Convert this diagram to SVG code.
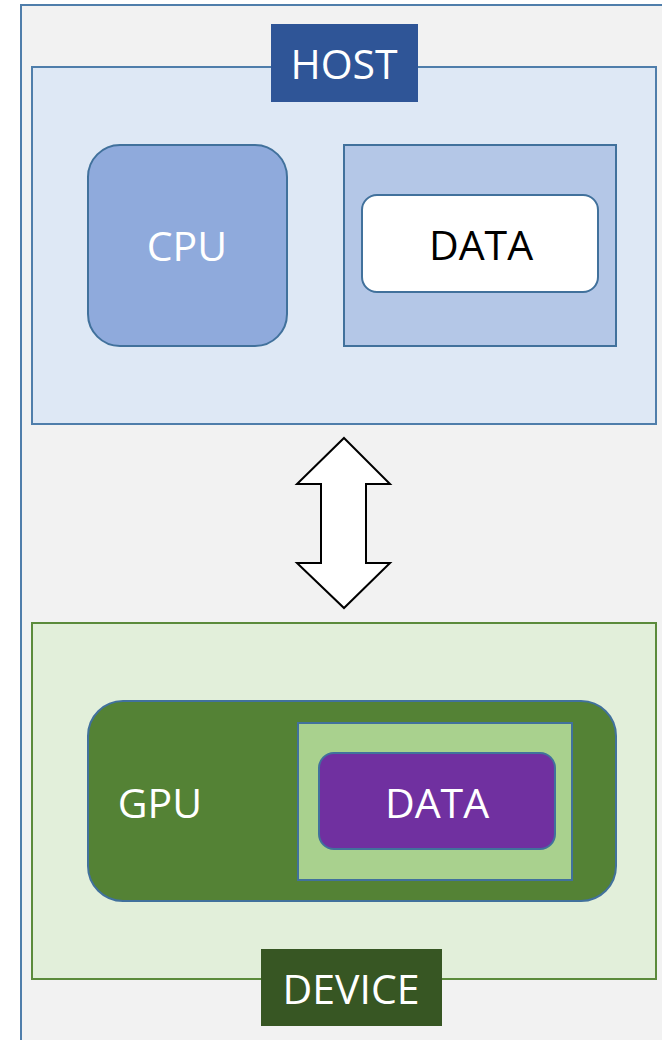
<svg xmlns="http://www.w3.org/2000/svg" width="662" height="1040" viewBox="0 0 662 1040">
<style>
.t{font-family:"Open Sans","Liberation Sans",sans-serif;font-size:41px;text-anchor:middle}
.w{fill:#ffffff}
.b{fill:#000000}
</style>
<rect x="0" y="0" width="662" height="1040" fill="#ffffff"/>
<g id="frame"><rect x="21" y="5" width="700" height="1100" fill="#f2f2f2" stroke="#4f7eab" stroke-width="2"/></g>
<g id="host">
<rect x="32" y="67" width="624" height="357" fill="#dee8f5" stroke="#4f7eab" stroke-width="2"/>
</g>
<g id="host-label">
<rect x="271" y="24" width="147" height="78" fill="#2f5597"/>
<text class="t w" x="344" y="79">HOST</text>
</g>
<g id="cpu">
<rect x="88" y="145" width="199" height="201" rx="32" fill="#8faadc" stroke="#41719c" stroke-width="2"/>
<text class="t w" x="187" y="261">CPU</text>
</g>
<g id="host-mem">
<rect x="344" y="145" width="272" height="201" fill="#b4c7e7" stroke="#41719c" stroke-width="2"/>
</g>
<g id="host-data">
<rect x="362" y="195" width="236" height="97" rx="15" fill="#ffffff" stroke="#41719c" stroke-width="2"/>
<text class="t b" x="481" y="260">DATA</text>
</g>
<g id="connectors">
<polygon points="344,438 390,484 366,484 366,563 390,563 344,608 297,563 321,563 321,484 297,484" fill="#ffffff" stroke="#000000" stroke-width="2" stroke-linejoin="miter"/>
</g>
<g id="device">
<rect x="32" y="623" width="624" height="356" fill="#e2efda" stroke="#5b8b3b" stroke-width="2"/>
</g>
<g id="gpu">
<rect x="88" y="701" width="528" height="200" rx="35" fill="#548235" stroke="#41719c" stroke-width="2"/>
<text class="t w" x="160" y="818">GPU</text>
</g>
<g id="device-mem">
<rect x="298" y="723" width="274" height="157" fill="#a9d18e" stroke="#41719c" stroke-width="2"/>
</g>
<g id="device-data">
<rect x="319" y="753" width="236" height="96" rx="15" fill="#7030a0" stroke="#41719c" stroke-width="2"/>
<text class="t w" x="437" y="818">DATA</text>
</g>
<g id="device-label">
<rect x="261" y="949" width="181" height="77" fill="#375623"/>
<text class="t w" x="351" y="1004">DEVICE</text>
</g>
</svg>
